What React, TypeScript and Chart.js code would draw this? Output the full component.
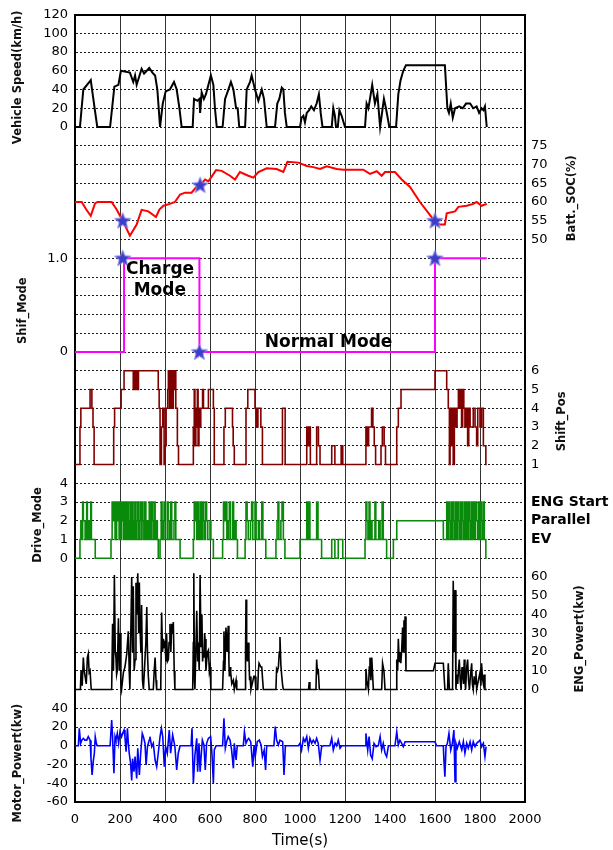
import { useEffect, useRef } from 'react';
import { Chart, registerables } from 'chart.js';

Chart.register(...registerables);

// ---------- data (time in s, value) ----------
const vehicleSpeed: number[][] = [
  [0, 0], [22, 0], [37, 40], [64, 48], [70, 50], [89, 17], [99, 0], [156, 0], [175, 43], [193, 45], [204, 60],
  [244, 58], [259, 48], [267, 55], [274, 45], [296, 62], [307, 57], [319, 60], [330, 63], [344, 58], [356, 55],
  [366, 40], [378, 0], [390, 25], [403, 38], [422, 40], [440, 48], [452, 40], [464, 20], [474, 0], [523, 0],
  [529, 30], [544, 28], [553, 30], [556, 15], [563, 37], [573, 30], [582, 35], [593, 45], [604, 55], [615, 45],
  [622, 20], [630, 0], [656, 0], [667, 30], [679, 38], [693, 48], [704, 40], [716, 20], [723, 20], [730, 0],
  [756, 0], [763, 40], [778, 48], [785, 55], [800, 40], [815, 28], [830, 40], [840, 30], [852, 0], [889, 0],
  [899, 25], [908, 30], [919, 42], [926, 40], [933, 15], [941, 0], [1000, 0], [1007, 10], [1015, 12], [1022, 5],
  [1030, 15], [1041, 18], [1050, 22], [1062, 18], [1074, 25], [1084, 35], [1092, 15], [1100, 0], [1141, 0],
  [1148, 20], [1155, 12], [1160, 0], [1168, 0], [1175, 18], [1185, 12], [1200, 0], [1289, 0], [1296, 25],
  [1304, 20], [1311, 30], [1321, 45], [1333, 25], [1344, 35], [1356, 0], [1373, 30], [1382, 20], [1397, 0],
  [1427, 0], [1437, 35], [1447, 50], [1459, 60], [1471, 66], [1644, 66], [1655, 20], [1662, 15], [1670, 25],
  [1679, 10], [1689, 20], [1708, 22], [1723, 20], [1738, 25], [1756, 25], [1770, 20], [1785, 22], [1796, 15],
  [1807, 20], [1815, 18], [1822, 22], [1830, 0],
];

const battSoc: number[][] = [
  [0, 60], [30, 60], [50, 58], [70, 56.3], [89, 59.6], [100, 60], [163, 60], [185, 58], [212, 55], [244, 51],
  [274, 54], [296, 57.9], [326, 57.5], [360, 56], [375, 58], [393, 59], [422, 59.5], [444, 60], [467, 62],
  [489, 62.5], [518, 62.5], [541, 64.1], [556, 64.5], [578, 66], [593, 65.5], [627, 68.5], [652, 68.3],
  [689, 67], [711, 66], [733, 68], [770, 67], [793, 66.5], [815, 68], [852, 69], [896, 68.8], [926, 68],
  [944, 70.7], [993, 70.5], [1030, 69.6], [1059, 69.3], [1089, 68.8], [1119, 69.5], [1163, 68.8], [1193, 68.6],
  [1281, 68.6], [1311, 67.5], [1341, 68.2], [1363, 67], [1378, 68], [1422, 68], [1452, 66], [1489, 64],
  [1533, 60], [1578, 56.5], [1600, 54.75], [1622, 54], [1644, 54], [1652, 57], [1689, 57.5], [1704, 58.7],
  [1741, 59], [1770, 59.5], [1785, 60], [1807, 59], [1830, 59.5],
];

const shifMode: number[][] = [[0, 0], [218, 1], [553, 0], [1600, 1], [1830, 1]];

const socStars: number[][] = [[212, 55], [556, 64.5], [1600, 55]];
const shifStars: number[][] = [[212, 1], [553, 0], [1600, 1]];

const shiftPos: number[][] = [
  [0, 1], [22, 3], [26, 4], [67, 5], [75, 4], [80, 3], [85, 1], [172, 3], [176, 4], [205, 5], [218, 6], [259, 5],
  [261, 6], [266, 5], [268, 6], [273, 5], [275, 6], [280, 5], [282, 6], [370, 5], [374, 4], [378, 1], [384, 3],
  [390, 4], [396, 1], [400, 2], [405, 4], [412, 5], [415, 6], [420, 4], [426, 6], [430, 4], [437, 6], [441, 5],
  [445, 6], [448, 4], [455, 2], [460, 1], [526, 3], [530, 5], [533, 2], [537, 4], [540, 3], [544, 5], [547, 2],
  [551, 4], [555, 3], [559, 4], [567, 5], [571, 4], [593, 5], [615, 4], [619, 1], [662, 3], [668, 4], [700, 3],
  [703, 2], [708, 1], [760, 4], [768, 5], [800, 4], [808, 3], [813, 4], [826, 3], [833, 1], [922, 4], [934, 1],
  [1030, 3], [1036, 2], [1040, 3], [1046, 1], [1074, 3], [1082, 2], [1089, 1], [1141, 2], [1155, 1], [1183, 2],
  [1190, 1], [1293, 3], [1300, 2], [1305, 3], [1318, 4], [1324, 3], [1330, 2], [1336, 1], [1360, 2], [1366, 3],
  [1374, 2], [1380, 1], [1430, 3], [1437, 4], [1449, 5], [1600, 6], [1652, 5], [1659, 4], [1664, 1], [1667, 4],
  [1672, 2], [1676, 4], [1681, 1], [1686, 4], [1693, 3], [1698, 4], [1704, 5], [1708, 4], [1713, 5], [1718, 3],
  [1723, 5], [1728, 4], [1733, 3], [1738, 4], [1745, 2], [1750, 4], [1756, 3], [1770, 4], [1778, 3], [1785, 2],
  [1790, 4], [1800, 3], [1807, 4], [1815, 2], [1826, 1], [1830, 1],
];

const driveMode: number[][] = [
  [0, 0], [22, 1], [26, 2], [30, 1], [34, 3], [37, 2], [45, 1], [52, 3], [55, 1], [62, 2], [66, 1], [70, 3],
  [73, 1], [90, 0], [160, 1], [165, 3], [170, 2], [175, 3], [178, 1], [185, 3], [188, 2], [193, 3], [196, 1],
  [200, 3], [203, 1], [206, 3], [209, 2], [212, 3], [215, 1], [218, 3], [221, 2], [224, 1], [227, 3], [230, 2],
  [233, 1], [236, 3], [240, 1], [244, 2], [248, 3], [251, 1], [255, 3], [258, 2], [262, 1], [266, 3], [270, 1],
  [274, 2], [278, 3], [282, 1], [286, 2], [290, 3], [294, 1], [298, 3], [302, 2], [306, 1], [310, 3], [315, 1],
  [320, 2], [326, 1], [330, 3], [335, 1], [340, 3], [344, 2], [348, 1], [352, 3], [356, 1], [360, 2], [366, 1],
  [370, 0], [378, 1], [383, 3], [387, 1], [392, 2], [396, 3], [400, 1], [410, 3], [414, 2], [418, 1], [425, 3],
  [430, 1], [440, 2], [444, 3], [448, 1], [467, 0], [526, 1], [530, 3], [534, 2], [537, 3], [541, 1], [545, 3],
  [548, 2], [552, 1], [556, 3], [560, 2], [563, 1], [567, 3], [571, 2], [575, 1], [580, 3], [585, 2], [590, 1],
  [600, 2], [604, 1], [615, 0], [656, 1], [660, 3], [665, 2], [670, 3], [675, 1], [682, 2], [686, 3], [690, 1],
  [700, 3], [705, 1], [712, 2], [716, 1], [722, 0], [756, 1], [760, 3], [765, 2], [770, 1], [780, 2], [785, 3],
  [790, 1], [800, 3], [805, 1], [815, 2], [820, 1], [830, 3], [835, 1], [848, 0], [893, 1], [898, 2], [902, 3],
  [906, 1], [915, 2], [920, 3], [926, 1], [933, 0], [1000, 1], [1030, 3], [1034, 1], [1040, 3], [1044, 1],
  [1074, 3], [1080, 1], [1096, 0], [1141, 1], [1155, 0], [1170, 1], [1190, 0], [1289, 1], [1293, 3], [1297, 2],
  [1302, 1], [1307, 3], [1311, 1], [1316, 2], [1320, 1], [1333, 3], [1337, 1], [1350, 2], [1356, 1], [1365, 3],
  [1370, 1], [1385, 0], [1415, 1], [1430, 2], [1637, 1], [1652, 3], [1655, 1], [1659, 3], [1663, 2], [1667, 1],
  [1671, 3], [1675, 1], [1679, 3], [1683, 2], [1687, 1], [1691, 3], [1695, 1], [1700, 3], [1704, 2], [1708, 1],
  [1712, 3], [1716, 1], [1720, 3], [1724, 2], [1728, 1], [1732, 3], [1736, 1], [1740, 3], [1745, 1], [1750, 3],
  [1754, 2], [1758, 1], [1762, 3], [1766, 1], [1770, 3], [1775, 1], [1780, 3], [1785, 2], [1790, 1], [1794, 3],
  [1798, 1], [1803, 3], [1807, 2], [1811, 1], [1815, 3], [1819, 1], [1826, 0], [1830, 0],
];

const engPower: number[][] = [
  [0, 0], [24, 0], [27, 10], [32, 2], [37, 17], [41, 10], [44, 10], [50, 3], [55, 17], [59, 19], [63, 9], [67, 10],
  [72, 0], [163, 0], [167, 35], [171, 10], [175, 61], [179, 20], [182, 17], [185, 8], [188, 10], [193, 38],
  [197, 10], [200, 30], [204, 3], [207, 0], [215, 9], [222, 12], [230, 19], [234, 26], [237, 31], [241, 10],
  [244, 0], [248, 30], [252, 60], [256, 20], [259, 55], [263, 10], [267, 16], [271, 57], [274, 40], [279, 62],
  [283, 30], [286, 57], [289, 33], [293, 20], [296, 45], [300, 5], [304, 0], [311, 16], [315, 25], [319, 44],
  [322, 20], [326, 7], [330, 0], [348, 0], [352, 10], [356, 17], [360, 5], [363, 0], [381, 0], [385, 41],
  [389, 20], [393, 27], [396, 22], [400, 26], [404, 15], [407, 30], [411, 15], [415, 16], [418, 25], [422, 35],
  [426, 20], [430, 35], [434, 30], [437, 36], [441, 10], [444, 0], [523, 0], [526, 25], [528, 62], [531, 5],
  [533, 0], [537, 20], [541, 42], [545, 15], [548, 25], [552, 10], [556, 61], [560, 23], [564, 40], [567, 15],
  [570, 20], [573, 17], [576, 30], [578, 27], [582, 10], [585, 15], [589, 20], [593, 21], [597, 10], [600, 12],
  [604, 0], [656, 0], [660, 15], [662, 31], [666, 10], [671, 33], [676, 20], [681, 34], [684, 15], [686, 7],
  [689, 12], [692, 9], [697, 3], [704, 5], [708, 0], [711, 0], [716, 5], [719, 0], [756, 0], [758, 21], [760, 48],
  [763, 20], [766, 15], [770, 25], [773, 17], [776, 5], [778, 7], [782, 0], [795, 7], [800, 7], [804, 0],
  [812, 0], [815, 10], [818, 14], [822, 14], [826, 12], [830, 12], [834, 5], [837, 0], [893, 0], [896, 11],
  [900, 10], [904, 12], [908, 20], [911, 28], [915, 13], [919, 7], [923, 2], [926, 0], [1038, 0], [1041, 4],
  [1044, 0], [1071, 0], [1074, 16], [1078, 8], [1081, 11], [1086, 0], [1289, 0], [1293, 11], [1297, 5],
  [1304, 0], [1308, 12], [1311, 17], [1315, 5], [1319, 17], [1326, 0], [1363, 0], [1367, 14], [1373, 10],
  [1378, 0], [1427, 0], [1430, 16], [1434, 10], [1437, 27], [1441, 15], [1444, 20], [1448, 14], [1452, 21],
  [1456, 33], [1459, 20], [1462, 37], [1465, 25], [1467, 39], [1471, 10], [1593, 10], [1600, 14], [1637, 14],
  [1644, 0], [1656, 0], [1659, 14], [1664, 0], [1678, 0], [1681, 58], [1685, 20], [1689, 53], [1693, 0],
  [1697, 8], [1701, 3], [1704, 10], [1708, 16], [1712, 5], [1716, 0], [1720, 12], [1723, 9], [1727, 3],
  [1730, 16], [1733, 5], [1736, 0], [1741, 12], [1745, 16], [1749, 5], [1753, 0], [1758, 8], [1763, 14],
  [1766, 3], [1770, 0], [1774, 7], [1778, 3], [1782, 10], [1785, 0], [1793, 5], [1800, 9], [1804, 2],
  [1807, 14], [1811, 6], [1815, 3], [1818, 8], [1822, 0], [1830, 0],
];

const motorPower: number[][] = [
  [0, 0], [15, 0], [19, 18.6], [25, 2.6], [30, 6], [37, 7.9], [44, 6], [52, 6], [59, 9.7], [67, 6], [71, -13.4],
  [76, -31.1], [81, -16.9], [86, -8], [90, 9.7], [95, 2.6], [99, 0], [156, 0], [163, 27.5], [167, 9.7],
  [173, -29.4], [178, 9.7], [182, 6], [188, 13.2], [194, 2.6], [200, 15], [207, 9.7], [212, 13.2], [218, 16.8],
  [222, 9.7], [227, -6.3], [233, 18.6], [237, 2.6], [241, -8], [247, -18.6], [252, -36.9], [256, -13.8],
  [262, -27.7], [267, -11.6], [274, -34.8], [279, -2.7], [286, -31.2], [292, -8], [299, 13.2], [304, 9.7],
  [311, 2.6], [316, -20.5], [322, -1], [330, 6], [333, 9.7], [341, -1], [348, 2.6], [356, -15.2], [363, -22.3],
  [370, -8], [378, 9.7], [384, 18.6], [390, 9.7], [397, -22.3], [403, -1], [410, -8], [419, 16.8], [425, -8],
  [434, 11.5], [444, -1], [452, -25.9], [459, -8], [467, 0], [516, 0], [520, 18.6], [526, -40], [533, -9.9],
  [541, 7.9], [545, -27.7], [551, 2.6], [556, -27.7], [561, -9.9], [566, 6], [573, 0.8], [579, -25.9],
  [585, 2.6], [593, 7.9], [603, 9.7], [609, -9.9], [615, -40], [619, -4.5], [627, 0], [656, 0], [662, 29.2],
  [668, -2.7], [674, 4.3], [681, 9.7], [689, 6], [696, -4.5], [704, -24.1], [708, 2.6], [716, -15.2], [721, 0],
  [748, 0], [753, 15], [760, 2.6], [766, 6], [772, 7.9], [781, 4.3], [790, -22.3], [796, 0.8], [801, -11.6],
  [810, 4.3], [819, 6], [827, 0.8], [833, -11.6], [841, -4.5], [847, -25.9], [852, 0], [884, 0], [890, 20.5],
  [896, 6], [904, 0.8], [911, 6], [923, 4.3], [929, -31.2], [935, 0], [993, 0], [1000, 2.6], [1007, -4.5],
  [1015, 7.9], [1022, 4.3], [1030, 9.7], [1037, -2.7], [1044, 7.9], [1052, 2.6], [1059, 6], [1067, 2.6],
  [1074, 7.9], [1081, 2.6], [1089, -15.2], [1096, -1], [1104, 0], [1133, 0], [1141, 7.9], [1148, -4.5],
  [1156, 2.6], [1163, 0], [1170, 6], [1178, -2.7], [1185, 0], [1289, 0], [1293, 13.2], [1301, -4.5],
  [1307, 9.7], [1314, -9.9], [1321, -13.8], [1329, 2.6], [1338, -1], [1348, 0], [1356, 9.7], [1363, -4.5],
  [1370, 2.6], [1378, -8], [1385, -11.6], [1393, 0], [1422, 0], [1430, 15], [1437, 0.8], [1444, 6], [1452, 2.6],
  [1459, -1], [1467, 4.3], [1600, 4.3], [1607, 0], [1637, 0], [1640, -17], [1644, -33], [1649, -1], [1655, 2.6],
  [1662, 13.2], [1670, -4.5], [1677, 2.6], [1684, 16.8], [1689, -38.3], [1693, 2.6], [1699, -2.7], [1708, 4.3],
  [1719, -4.5], [1726, 4.3], [1733, -8], [1741, 2.6], [1748, -2.7], [1756, 4.3], [1763, -4.5], [1770, 4.3],
  [1778, -1], [1785, 2.6], [1793, 4.3], [1800, 6], [1807, -1], [1815, 2.6], [1822, -11.6], [1827, -1],
];

// ---------- tick labels / texts ----------
const speedTicks = [0, 20, 40, 60, 80, 100, 120];
const socTicks = [50, 55, 60, 65, 70, 75];
const shifTickLabels: Record<string, string> = { '1': '1.0', '0': '0' };
const shiftPosTicks = [1, 2, 3, 4, 5, 6];
const driveTicks = [0, 1, 2, 3, 4];
const driveModeNames: Record<string, string> = { '1': 'EV', '2': 'Parallel', '3': 'ENG Start' };
const engTicks = [0, 10, 20, 30, 40, 50, 60];
const motorTicks = [-60, -40, -20, 0, 20, 40];

// annotation texts in data space (time, Shif_Mode value)
const modeNotes = [
  { text: 'Charge', x: 378, y: 0.875 },
  { text: 'Mode', x: 377, y: 0.66 },
  { text: 'Normal Mode', x: 1127, y: 0.1 },
];

// axis titles anchored to a value on their own axis
const axisTitles = [
  { text: 'Vehicle Speed(km/h)', axis: 'ySpeed', value: 53, px: 18.5 },
  { text: 'Batt._SOC(%)', axis: 'ySoc', value: 61, px: 572 },
  { text: 'Shif_Mode', axis: 'yShif', value: 0.44, px: 23 },
  { text: 'Shift_Pos', axis: 'yPos', value: 3.3, px: 562 },
  { text: 'Drive_Mode', axis: 'yDrive', value: 1.77, px: 38 },
  { text: 'ENG_Powert(kw)', axis: 'yEng', value: 27, px: 580 },
  { text: 'Motor_Powert(kw)', axis: 'yMotor', value: -18.5, px: 18 },
];

const toXY = (a: number[][]) => a.map(([x, y]) => ({ x, y }));

const ROWS = 42;
const FONT = 'DejaVu Sans';

function makeStar(): HTMLCanvasElement {
  const c = document.createElement('canvas');
  const s = 19;
  c.width = s;
  c.height = s;
  const g = c.getContext('2d')!;
  const cx = s / 2, cy = s / 2 + 0.5, R = 8.5, r = 3.6;
  g.beginPath();
  for (let i = 0; i < 10; i++) {
    const ang = -Math.PI / 2 + (i * Math.PI) / 5;
    const rad = i % 2 === 0 ? R : r;
    const px = cx + rad * Math.cos(ang), py = cy + rad * Math.sin(ang);
    if (i === 0) g.moveTo(px, py); else g.lineTo(px, py);
  }
  g.closePath();
  g.fillStyle = '#3d3dc9';
  g.fill();
  g.strokeStyle = '#8a8ae6';
  g.lineWidth = 1;
  g.stroke();
  return c;
}

const overlayPlugin = {
  id: 'overlay',
  // y axes are fitted with zero width (all share the plot edge); widen their
  // boxes afterwards so their tick labels are not clipped away
  afterLayout(chart: any) {
    const area = chart.chartArea;
    for (const s of Object.values(chart.scales) as any[]) {
      if (s.axis !== 'y') continue;
      if (s.position === 'left') {
        s.left = 0;
        s.right = area.left;
      } else {
        s.left = area.right;
        s.right = chart.width;
      }
      s.width = s.right - s.left;
    }
  },
  afterDatasetsDraw(chart: any) {
    const ctx = chart.ctx;
    const xs = chart.scales.x, ys = chart.scales.yShif;
    ctx.save();
    ctx.font = `bold 17px "${FONT}"`;
    ctx.fillStyle = '#000';
    ctx.textAlign = 'center';
    ctx.textBaseline = 'middle';
    for (const n of modeNotes) {
      ctx.fillText(n.text, xs.getPixelForValue(n.x), ys.getPixelForValue(n.y));
    }
    ctx.restore();
  },
  afterDraw(chart: any) {
    const ctx = chart.ctx;
    ctx.save();
    ctx.font = `bold 11.5px "${FONT}"`;
    ctx.fillStyle = '#111';
    ctx.textAlign = 'center';
    ctx.textBaseline = 'middle';
    for (const t of axisTitles) {
      const y = chart.scales[t.axis].getPixelForValue(t.value);
      ctx.save();
      ctx.translate(t.px, y);
      ctx.rotate(-Math.PI / 2);
      ctx.fillText(t.text, 0, 0);
      ctx.restore();
    }
    ctx.restore();
  },
};

function zeroW(s: any) {
  s.width = 0;
  s.paddingTop = 0;
  s.paddingBottom = 0;
}

// axis over the full plot height: `top` is the value on the first row, `step` per row
function rowAxis(position: 'left' | 'right', top: number, step: number, cb: (v: number) => string, extra: any = {}) {
  return {
    type: 'linear',
    position,
    max: top,
    min: top - ROWS * step,
    afterFit: zeroW,
    grid: { display: false, drawTicks: false },
    border: { display: false },
    ticks: {
      stepSize: step,
      autoSkip: false,
      padding: position === 'left' ? 7 : 6,
      color: '#000',
      font: { family: FONT, size: 13 },
      callback: cb,
      ...(extra.ticks || {}),
    },
    ...(extra.rest || {}),
  };
}

export default function App() {
  const ref = useRef<HTMLCanvasElement>(null);
  useEffect(() => {
    const star = makeStar();
    const line = (data: number[][], color: string, axis: string, w = 1.5, stepped = false) => ({
      data: toXY(data),
      yAxisID: axis,
      borderColor: color,
      backgroundColor: color,
      borderWidth: w,
      pointRadius: 0,
      fill: false,
      tension: 0,
      stepped,
    });
    const stars = (data: number[][], axis: string) => ({
      data: toXY(data),
      yAxisID: axis,
      showLine: false,
      pointStyle: star,
      pointRadius: 9,
      order: -1,
    });
    const inList = (list: number[]) => (v: number) => (list.includes(Math.round(v * 100) / 100) ? String(v) : '');
    const chart = new Chart(ref.current!, {
      type: 'line',
      data: {
        datasets: [
          line(vehicleSpeed, '#000000', 'ySpeed', 2),
          line(battSoc, '#ff0000', 'ySoc', 2),
          line(shifMode, '#ff00ff', 'yShif', 2, true),
          line(shiftPos, '#800000', 'yPos', 1.6, true),
          line(driveMode, '#0a8a0a', 'yDrive', 1.6, true),
          line(engPower, '#000000', 'yEng', 1.6),
          line(motorPower, '#0000ff', 'yMotor', 1.6),
          stars(socStars, 'ySoc'),
          stars(shifStars, 'yShif'),
        ] as any,
      },
      options: {
        animation: false,
        responsive: false,
        devicePixelRatio: 1,
        layout: { padding: { left: 75, right: 88, top: 14.5, bottom: 0 } },
        plugins: { legend: { display: false }, tooltip: { enabled: false } },
        events: [],
        scales: {
          x: {
            type: 'linear',
            position: 'bottom',
            min: 0,
            max: 2000,
            afterFit: (s: any) => { s.height = 48; },
            ticks: {
              stepSize: 200, autoSkip: false, maxRotation: 0, padding: 10, color: '#000',
              font: { family: FONT, size: 13 },
              callback: (v: number) => String(v),
            },
            grid: { color: '#333333', lineWidth: 1, drawTicks: false },
            border: { display: true, color: '#000', width: 2 },
            title: { display: true, text: 'Time(s)', color: '#000', font: { family: FONT, size: 15 }, padding: { top: 0, bottom: 0 } },
          },
          xTop: {
            type: 'linear',
            position: 'top',
            min: 0,
            max: 2000,
            afterFit: (s: any) => { s.height = 0; },
            ticks: { display: false },
            grid: { display: false, drawTicks: false },
            border: { display: true, color: '#000', width: 2 },
          },
          ySpeed: rowAxis('left', 120, 20, inList(speedTicks), {
            rest: {
              grid: { display: true, drawTicks: false, color: '#1a1a1a', lineWidth: 1 },
              border: { display: true, color: '#000', width: 2, dash: [2, 2] },
            },
          }),
          ySoc: rowAxis('right', 110, 5, inList(socTicks), {
            rest: { border: { display: true, color: '#000', width: 2 } },
          }),
          yShif: rowAxis('left', 3.6, 0.2, (v: number) => {
            const k = String(Math.round(v * 10) / 10 + 0);
            return shifTickLabels[k] ?? '';
          }),
          yPos: rowAxis('right', 25, 1, inList(shiftPosTicks)),
          yDrive: rowAxis('left', 29, 1, inList(driveTicks)),
          yDriveName: rowAxis('right', 29, 1, (v: number) => driveModeNames[String(v)] ?? '', {
            ticks: { font: { family: FONT, size: 14, weight: 'bold' } },
          }),
          yEng: rowAxis('right', 360, 10, inList(engTicks)),
          yMotor: rowAxis('left', 780, 20, inList(motorTicks)),
        } as any,
      },
      plugins: [overlayPlugin],
    });
    return () => chart.destroy();
  }, []);
  return (
    <div style={{ position: 'fixed', left: 0, top: 0, width: 613, height: 850, background: '#fff' }}>
      <canvas ref={ref} width={613} height={850} style={{ display: 'block' }} />
    </div>
  );
}
